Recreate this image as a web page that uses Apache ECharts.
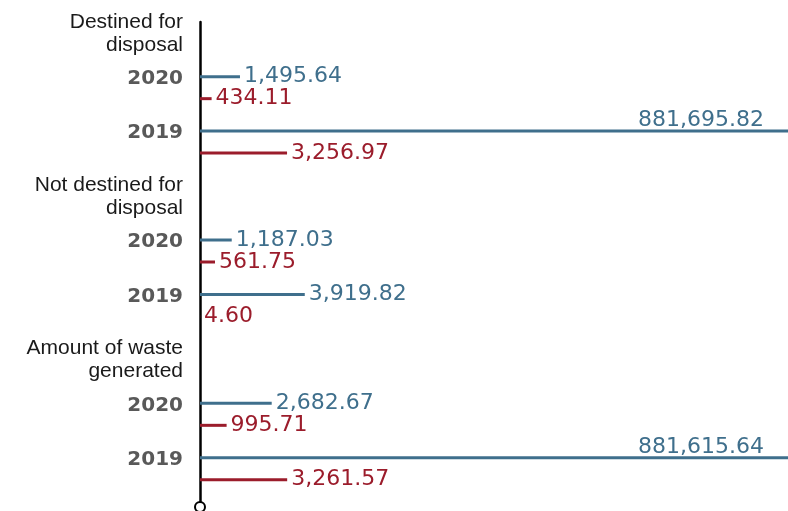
<!DOCTYPE html>
<html>
<head>
<meta charset="utf-8">
<script src="https://cdn.jsdelivr.net/npm/echarts@6/dist/echarts.min.js"></script>
<style>
  html, body { margin: 0; padding: 0; background: #ffffff; }
  #chart { width: 788px; height: 511px; }
</style>
</head>
<body>
<div id="chart"></div>
<script>
// Groups shown on the vertical axis, each followed by its years
const groups = ['Destined for\ndisposal', 'Not destined for\ndisposal', 'Amount of waste\ngenerated'];
const years = ['2020', '2019'];

// One value per group and year (group order, then year order)
const blueValues = [1495.64, 881695.82, 1187.03, 3919.82, 2682.67, 881615.64];
const redValues = [434.11, 3256.97, 561.75, 4.60, 995.71, 3261.57];

const AXIS_MAX = 22000;
const BLUE = '#3f6f8c';
const RED = '#9b1c2b';

// Rows: a heading row for every group, then one row per year
const rows = [];
groups.forEach(function (g, gi) {
  rows.push({ kind: 'hdr', text: g });
  years.forEach(function (y, yi) {
    rows.push({ kind: 'yr', text: y, idx: gi * years.length + yi });
  });
});
const categories = rows.map(function (r, i) { return 'row' + i; });

function fmt(v) {
  return Number(v).toLocaleString('en-US', { minimumFractionDigits: 2, maximumFractionDigits: 2 });
}

// Bars running past the axis end get their label above the bar, near the right edge
function seriesData(values) {
  return rows.map(function (r) {
    if (r.kind !== 'yr') return '-';
    const v = values[r.idx];
    if (v > AXIS_MAX) {
      return {
        value: v,
        label: { position: ['100%', 0], align: 'right', verticalAlign: 'bottom', offset: [-24, 2] }
      };
    }
    return v;
  });
}

function barSeries(name, values, color) {
  return {
    type: 'bar',
    name: name,
    xAxisIndex: 0,
    yAxisIndex: 0,
    data: seriesData(values),
    barWidth: 3,
    barGap: '633%',
    clip: true,
    silent: true,
    itemStyle: { color: color },
    label: {
      show: true,
      position: 'right',
      distance: 4,
      color: color,
      fontFamily: 'DejaVu Sans',
      fontSize: 22,
      formatter: function (p) { return fmt(p.value); }
    }
  };
}

const chart = echarts.init(document.getElementById('chart'), null, { renderer: 'canvas' });

chart.setOption({
  animation: false,
  backgroundColor: '#ffffff',
  grid: [
    { left: 200, right: 0, top: 6, bottom: 15 },
    { left: 200, width: 10, top: 22, bottom: 4 }
  ],
  xAxis: [
    { type: 'value', gridIndex: 0, min: 0, max: AXIS_MAX, show: false },
    { type: 'value', gridIndex: 1, show: false }
  ],
  yAxis: [
    {
      type: 'category',
      gridIndex: 0,
      data: categories,
      inverse: true,
      axisLine: { show: false },
      axisTick: { show: false },
      splitLine: { show: false },
      axisLabel: {
        margin: 17,
        formatter: function (value, index) {
          const r = rows[index];
          if (r.kind === 'hdr') {
            return r.text.split('\n').map(function (t) { return '{hdr|' + t + '}'; }).join('\n');
          }
          return '{yr|' + r.text + '}';
        },
        rich: {
          hdr: { fontFamily: 'Liberation Sans', fontSize: 21, lineHeight: 23, color: '#1a1a1a' },
          yr: { fontFamily: 'DejaVu Sans', fontWeight: 'bold', fontSize: 20, color: '#595959', padding: [0, 0, 18, 0] }
        }
      }
    },
    {
      type: 'value',
      gridIndex: 1,
      axisLine: {
        show: true,
        onZero: false,
        symbol: ['emptyCircle', 'none'],
        symbolSize: [10, 10],
        lineStyle: { color: '#000000', width: 2.5 }
      },
      axisTick: { show: false },
      axisLabel: { show: false },
      splitLine: { show: false }
    }
  ],
  series: [
    barSeries('Series 1', blueValues, BLUE),
    barSeries('Series 2', redValues, RED)
  ]
});
</script>
</body>
</html>
